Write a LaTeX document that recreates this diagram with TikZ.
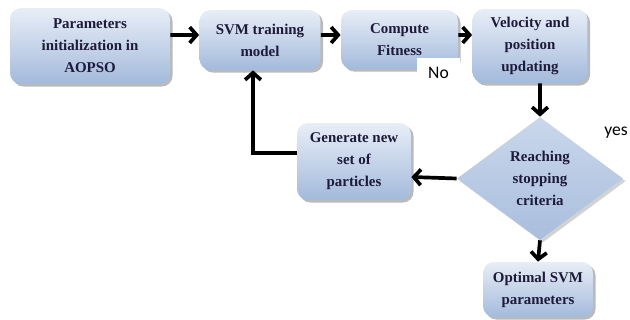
\documentclass[tikz,border=0pt]{standalone}
\usepackage{fontspec}
\setmainfont{Liberation Serif}
\newfontfamily\lblfont{Carlito}
\usetikzlibrary{shapes.geometric,shadows,arrows.meta}
\definecolor{boxtop}{HTML}{E8EEF7}
\definecolor{boxbot}{HTML}{A3BADB}
\definecolor{dmdtop}{HTML}{C9D7EB}
\definecolor{dmdbot}{HTML}{A9BEDD}
\definecolor{txtc}{HTML}{1E1B3A}

\begin{document}
\begin{tikzpicture}[x=0.02cm,y=-0.02cm,
      every node/.append style={font=\bfseries\fontsize{8.5}{12.5}\selectfont,text=txtc,align=center},
      stepbox/.style={rounded corners=0.22cm,draw=none,top color=boxtop,bottom color=boxbot,
        drop shadow={shadow xshift=1.5pt,shadow yshift=-1.5pt,fill=black!45,opacity=0.6}},
      testbox/.style={diamond,aspect=1.35,inner sep=0pt,draw=none,top color=dmdtop,bottom color=dmdbot,
        drop shadow={shadow xshift=1.5pt,shadow yshift=-1.5pt,fill=black!35,opacity=0.5}},
      answer/.style={font=\lblfont\fontsize{10}{12}\selectfont,text=black},
      flow/.style={line width=2.1pt,-{Straight Barb[length=4pt,width=9pt]}}]
    \useasboundingbox (0,0) rectangle (630,320);
    \node (params) [stepbox,minimum width=3.2cm,minimum height=1.52cm] at (90,46) {Parameters\\initialization in\\AOPSO};
    \node (svm) [stepbox,minimum width=2.42cm,minimum height=1.2cm] at (260,40) {SVM training\\model};
    \node (fitness) [stepbox,minimum width=2.34cm,minimum height=1.18cm] at (399.5,39.5) {Compute\\Fitness};
    \node (velocity) [stepbox,minimum width=2.3cm,minimum height=1.48cm] at (530,46) {Velocity and\\position\\updating};
    \node (stop) [testbox,minimum width=3.32cm,minimum height=2.46cm] at (540,178.5) {Reaching\\stopping\\criteria};
    \node (generate) [stepbox,minimum width=2.28cm,minimum height=1.54cm] at (354,161.5) {Generate new\\set of\\particles};
    \node (optimal) [stepbox,minimum width=2.2cm,minimum height=1.1cm] at (538,289.5) {Optimal SVM\\parameters};
    \node (no) [answer,fill=white,minimum width=0.88cm,minimum height=0.56cm] at (438.5,72.5) {No};
    \node (yes) [answer] at (616,133) {yes};
    \coordinate (bend) at (253,153);
    \draw[flow] ([yshift=0.22cm]params.east) -- ([yshift=0.1cm]svm.west);
    \draw[flow] ([yshift=0.1cm]svm.east) -- ([yshift=0.09cm]fitness.west);
    \draw[flow] ([yshift=0.09cm]fitness.east) -- ([yshift=0.22cm]velocity.west);
    \draw[flow] ([xshift=0.2cm]velocity.south) -- (stop.north);
    \draw[flow] (stop.west) -- ([yshift=-0.31cm]generate.east);
    \draw[flow] (generate.west |- bend) -- (bend) -- (bend |- svm.south);
    \draw[flow] (stop.south) -- (optimal.north);
  \end{tikzpicture}
\end{document}
